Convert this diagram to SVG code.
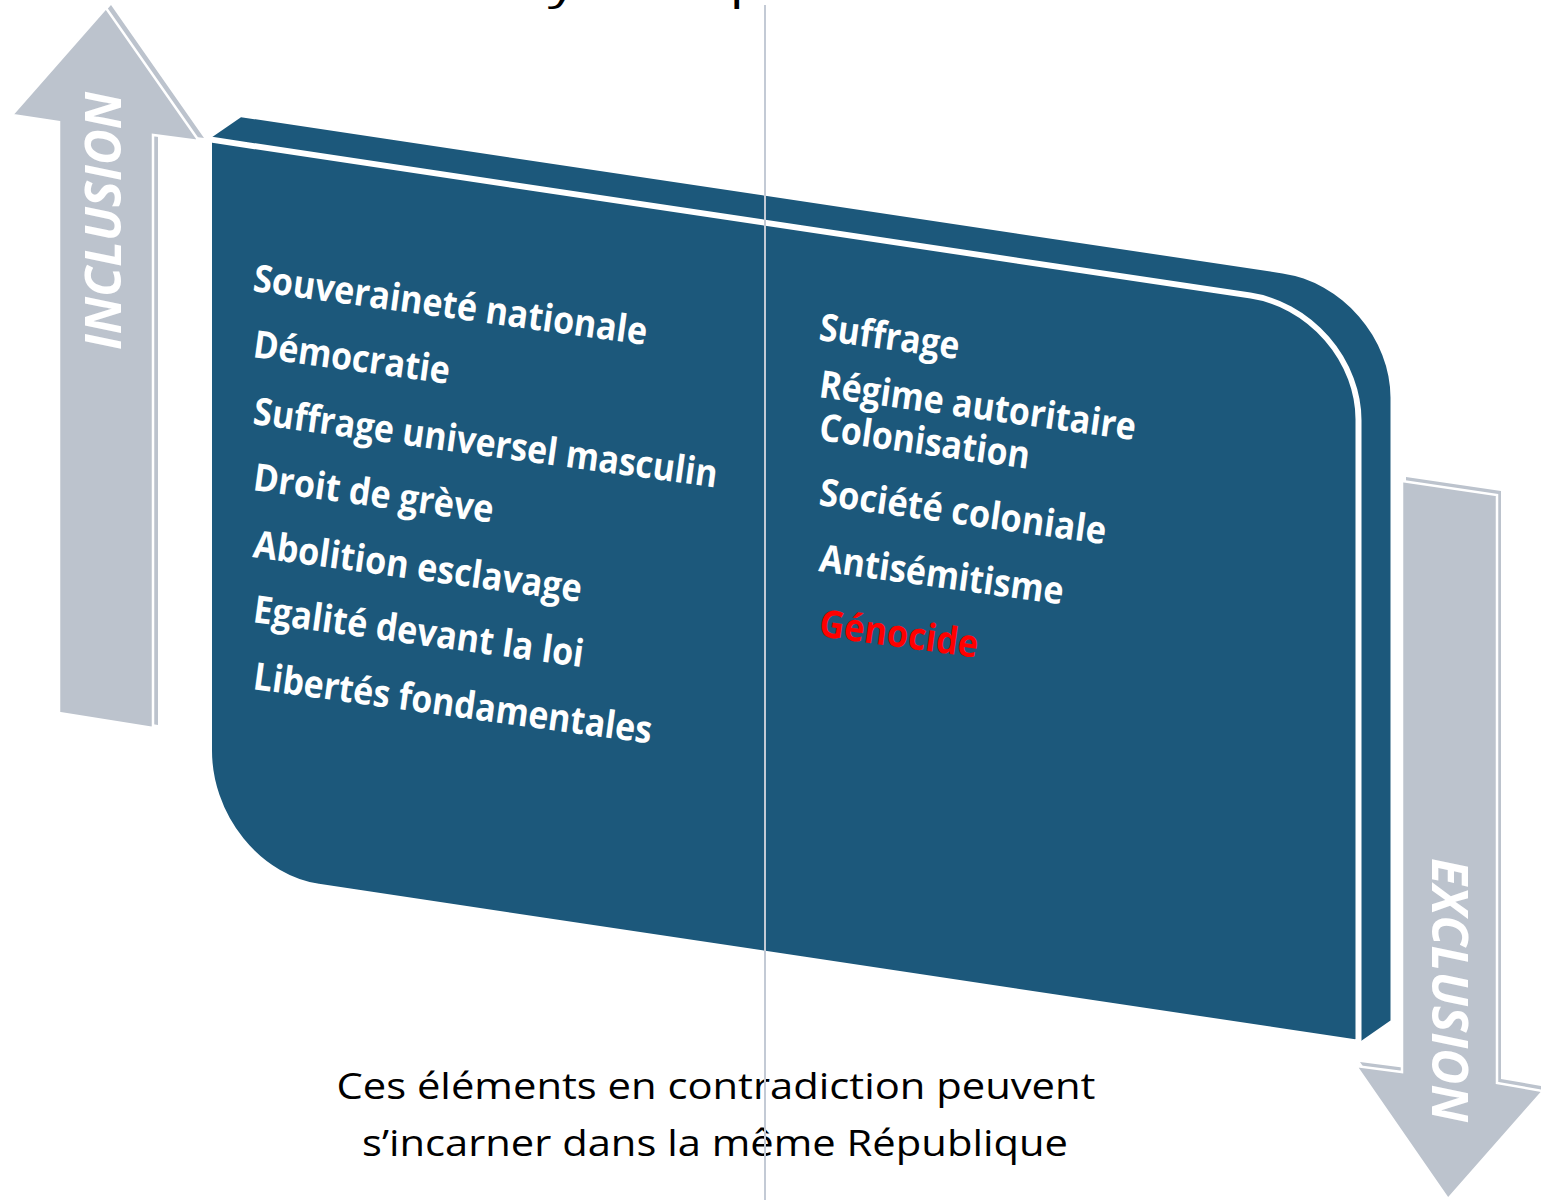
<svg xmlns="http://www.w3.org/2000/svg" width="1541" height="1200" viewBox="0 0 1541 1200">
  <style>
    .arrow { fill: #bcc3cd; }
    .arrow-front { fill: #bcc3cd; stroke: #ffffff; stroke-width: 2.5; stroke-linejoin: miter; }
    .arrow-label { font-family: "Open Sans", "Liberation Sans", sans-serif; font-weight: bold; font-style: italic; font-size: 50px; fill: #ffffff; text-anchor: middle; }
    .item { font-family: "Open Sans", "Liberation Sans", sans-serif; font-weight: bold; font-size: 38px; fill: #ffffff; }
    .item-red { fill: #ff0000; }
    .caption { font-family: "Open Sans", "Liberation Sans", sans-serif; font-size: 37px; fill: #000000; text-anchor: middle; }
    .box { fill: #1c587b; }
    .box-front { fill: #1c587b; stroke: #ffffff; stroke-width: 6; stroke-linejoin: round; }
  </style>

  <!-- clipped title at the very top -->
  <text class="caption" x="830" y="0" font-size="60" textLength="840" lengthAdjust="spacingAndGlyphs">Les dynamiques contradictoires</text>

  <!-- INCLUSION arrow -->
  <g id="arrow-inclusion">
    <polygon class="arrow" transform="translate(5,-3)" points="59,713 59,122 12,115 106,8 199,141 153,135 153,728"/>
    <polygon class="arrow-front" points="59,713 59,122 12,115 106,8 199,141 153,135 153,728"/>
    <text class="arrow-label" transform="translate(121,221) rotate(-90)" textLength="258" lengthAdjust="spacingAndGlyphs">INCLUSION</text>
  </g>

  <!-- EXCLUSION arrow -->
  <g id="arrow-exclusion">
    <polygon class="arrow" transform="translate(4,-4)" points="1402,481 1497,495 1497,1083 1543,1091 1448,1199 1356,1066 1402,1072"/>
    <polygon class="arrow-front" points="1402,481 1497,495 1497,1083 1543,1091 1448,1199 1356,1066 1402,1072"/>
    <text class="arrow-label" transform="translate(1432,990) rotate(90)" textLength="264" lengthAdjust="spacingAndGlyphs">EXCLUSION</text>
  </g>

  <!-- main slab -->
  <g id="slab">
    <g transform="matrix(1 0.15 0 1 0 0)">
      <path class="box" d="M 209,108 L 241,81 L 1282.5,81 A 108 108 0 0 1 1390.5,189 L 1390.5,812 L 1358.5,839 L 1300,400 L 209,400 Z"/>
      <path class="box-front" d="M 209,108 L 1250.5,108 A 108 108 0 0 1 1358.5,216 L 1358.5,839 L 319,839 A 110 120 0 0 1 209,719 Z"/>
    </g>
  </g>

  <!-- inclusion items -->
  <g id="inclusion-items">
    <text class="item" transform="rotate(7.8 252 291)" x="252" y="291" textLength="397" lengthAdjust="spacingAndGlyphs">Souveraineté nationale</text>
    <text class="item" transform="rotate(7.8 252 357)" x="252" y="357" textLength="198" lengthAdjust="spacingAndGlyphs">Démocratie</text>
    <text class="item" transform="rotate(7.8 252 424)" x="252" y="424" textLength="468" lengthAdjust="spacingAndGlyphs">Suffrage universel masculin</text>
    <text class="item" transform="rotate(7.8 252 490)" x="252" y="490" textLength="242" lengthAdjust="spacingAndGlyphs">Droit de grève</text>
    <text class="item" transform="rotate(7.8 252 557)" x="252" y="557" textLength="331" lengthAdjust="spacingAndGlyphs">Abolition esclavage</text>
    <text class="item" transform="rotate(7.8 252 622)" x="252" y="622" textLength="333" lengthAdjust="spacingAndGlyphs">Egalité devant la loi</text>
    <text class="item" transform="rotate(7.8 252 689)" x="252" y="689" textLength="402" lengthAdjust="spacingAndGlyphs">Libertés fondamentales</text>
  </g>

  <!-- exclusion items -->
  <g id="exclusion-items">
    <text class="item" transform="rotate(7.8 818 340)" x="818" y="340" textLength="141" lengthAdjust="spacingAndGlyphs">Suffrage</text>
    <text class="item" transform="rotate(7.8 818 397)" x="818" y="397" textLength="319" lengthAdjust="spacingAndGlyphs">Régime autoritaire</text>
    <text class="item" transform="rotate(7.8 818 440)" x="818" y="440" textLength="212" lengthAdjust="spacingAndGlyphs">Colonisation</text>
    <text class="item" transform="rotate(7.8 818 505)" x="818" y="505" textLength="289" lengthAdjust="spacingAndGlyphs">Société coloniale</text>
    <text class="item" transform="rotate(7.8 818 571)" x="818" y="571" textLength="246" lengthAdjust="spacingAndGlyphs">Antisémitisme</text>
    <text class="item item-red" transform="rotate(7.8 818 636)" x="818" y="636" textLength="160" lengthAdjust="spacingAndGlyphs">Génocide</text>
  </g>

  <!-- caption -->
  <g id="caption">
    <text class="caption" x="716" y="1099" textLength="759" lengthAdjust="spacingAndGlyphs">Ces éléments en contradiction peuvent</text>
    <text class="caption" x="715" y="1156" textLength="706" lengthAdjust="spacingAndGlyphs">s’incarner dans la même République</text>
  </g>

  <!-- connectors: vertical divider line -->
  <g id="connectors">
    <line x1="765" y1="5" x2="765" y2="1200" stroke="#c3cad5" stroke-width="2"/>
  </g>
</svg>
